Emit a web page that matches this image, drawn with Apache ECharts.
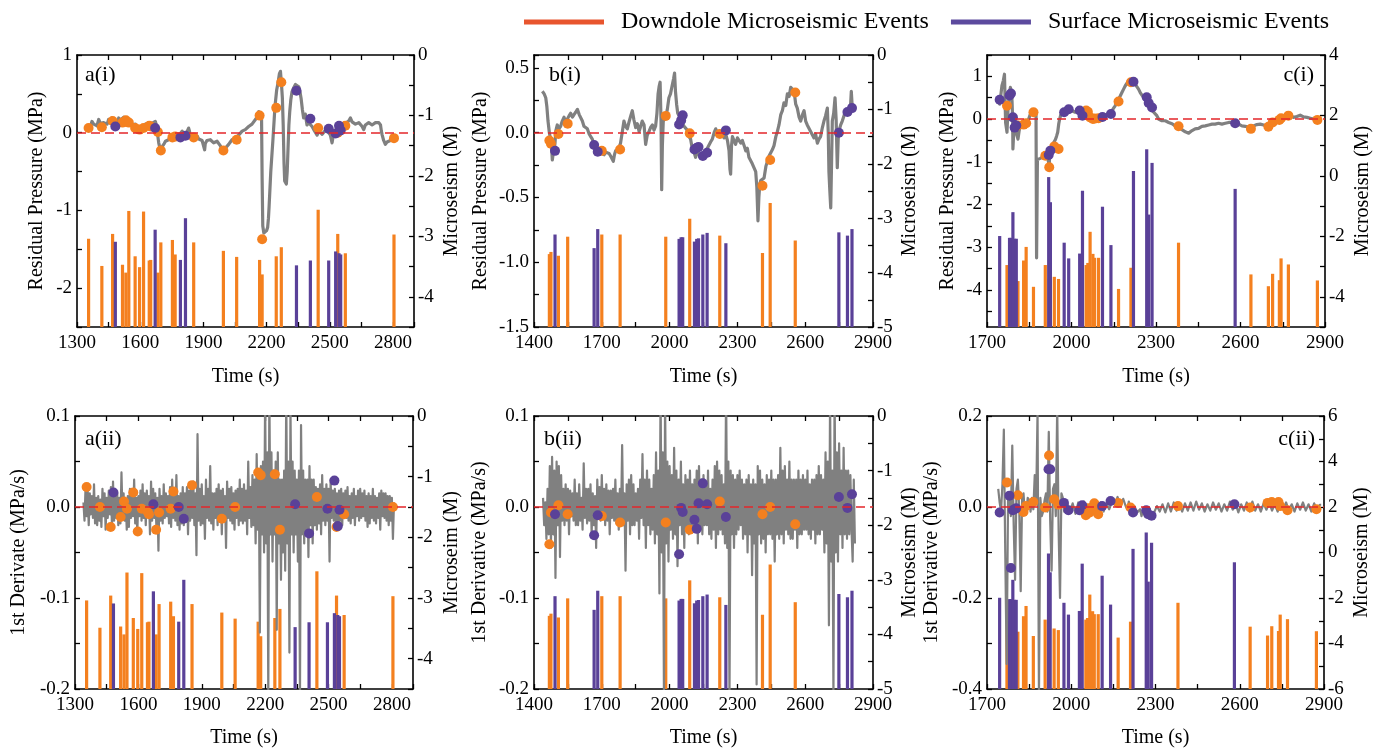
<!DOCTYPE html>
<html><head><meta charset="utf-8">
<script src="https://cdn.jsdelivr.net/npm/echarts@6/dist/echarts.min.js"></script>
<style>html,body{margin:0;padding:0;background:#fff}#c{width:1386px;height:753px}</style>
</head><body><div id="c"></div>
<script>
// ---------------- DATA ----------------
// Column a
const aDownT = [1355,1418,1469,1516,1532,1546,1576,1597,1616,1643,1650,1684,1698,1753,1766,1854,1995,2058,2167,2179,2246,2270,2445,2538,2574,2805];
const aDownM = [-3.04,-3.49,-2.96,-3.47,-3.60,-2.58,-3.33,-3.51,-2.59,-3.40,-3.39,-3.60,-3.10,-3.06,-3.30,-3.10,-3.24,-3.34,-3.39,-3.63,-3.33,-3.18,-2.56,-2.96,-3.28,-2.97];
const aDownP = [0.06,0.07,0.15,0.13,0.16,0.13,0.06,0.04,0.06,0.09,0.08,0.01,-0.23,-0.06,-0.05,-0.06,-0.23,-0.09,0.22,-1.37,0.32,0.65,0.06,0.00,0.09,-0.07];
const aDownD = [0.022,0.000,-0.022,-0.011,0.006,-0.002,0.016,-0.027,-0.002,-0.005,-0.008,-0.025,-0.006,-0.002,0.017,0.024,-0.013,0.000,0.038,0.035,0.036,-0.025,0.011,-0.022,-0.008,0.000];
const aSurfT = [1482,1671,1791,1815,2342,2408,2495,2528,2544,2552];
const aSurfM = [-3.09,-2.89,-3.39,-2.70,-3.48,-3.40,-3.40,-3.25,-3.28,-3.30];
const aSurfP = [0.08,0.06,-0.06,-0.04,0.54,0.18,0.05,-0.01,0.09,0.03];
const aSurfD = [0.016,0.003,0.000,-0.013,0.003,-0.029,-0.002,0.029,-0.021,-0.003];
const aPres = [[1340,0.04],[1348,0.09],[1355,0.10],[1363,0.07],[1371,0.145],[1379,0.11],[1387,0.12],[1395,0.09],[1403,0.17],[1411,0.12],[1419,0.10],[1427,0.13],[1435,0.145],[1443,0.11],[1450,0.17],[1458,0.14],[1466,0.19],[1474,0.15],[1482,0.145],[1490,0.12],[1498,0.19],[1506,0.16],[1514,0.17],[1522,0.20],[1530,0.15],[1537,0.145],[1545,0.12],[1553,0.13],[1561,0.10],[1569,0.08],[1577,0.11],[1585,0.06],[1593,0.04],[1601,0.08],[1609,0.10],[1617,0.07],[1625,0.11],[1632,0.10],[1640,0.12],[1648,0.09],[1656,0.12],[1664,0.10],[1672,0.145],[1676,0.10],[1680,0.06],[1684,-0.05],[1688,-0.13],[1692,-0.18],[1696,-0.20],[1702,-0.19],[1708,-0.17],[1714,-0.14],[1720,-0.11],[1728,-0.12],[1735,-0.09],[1743,-0.06],[1751,-0.03],[1759,-0.06],[1767,-0.05],[1775,-0.02],[1783,-0.03],[1791,-0.01],[1799,0.02],[1807,-0.01],[1814,-0.03],[1822,0.01],[1830,0.06],[1834,0.02],[1838,-0.05],[1846,-0.04],[1854,-0.07],[1862,-0.05],[1870,-0.04],[1878,-0.08],[1886,-0.09],[1894,-0.10],[1902,-0.12],[1906,-0.22],[1909,-0.14],[1917,-0.10],[1925,-0.12],[1933,-0.09],[1941,-0.10],[1949,-0.13],[1957,-0.13],[1965,-0.11],[1973,-0.13],[1981,-0.17],[1989,-0.22],[1997,-0.24],[2004,-0.20],[2012,-0.18],[2020,-0.15],[2028,-0.12],[2036,-0.09],[2044,-0.10],[2052,-0.07],[2060,-0.05],[2068,-0.03],[2076,-0.01],[2084,0.02],[2092,0.00],[2099,0.04],[2107,0.05],[2115,0.08],[2123,0.06],[2131,0.11],[2139,0.10],[2147,0.17],[2155,0.20],[2163,0.27],[2171,0.29],[2176,0.25],[2179,-0.6],[2182,-1.2],[2187,-1.29],[2195,-1.31],[2200,-1.26],[2205,-1.22],[2209,-1.1],[2212,-0.95],[2220,-0.5],[2230,-0.1],[2240,0.34],[2248,0.55],[2255,0.65],[2261,0.76],[2266,0.79],[2271,0.62],[2275,0.45],[2279,0.1],[2283,-0.4],[2286,-0.62],[2294,-0.66],[2298,-0.5],[2302,-0.2],[2306,0.1],[2310,0.27],[2315,0.42],[2321,0.53],[2329,0.58],[2337,0.62],[2345,0.60],[2353,0.59],[2359,0.52],[2364,0.44],[2370,0.30],[2376,0.19],[2384,0.24],[2392,0.10],[2400,0.13],[2408,0.12],[2416,0.08],[2424,0.04],[2432,0.06],[2440,-0.03],[2448,0.02],[2456,0.02],[2464,-0.02],[2471,-0.03],[2479,0.03],[2487,0.04],[2495,0.00],[2503,-0.03],[2511,-0.13],[2519,0.00],[2527,0.03],[2535,0.06],[2543,0.05],[2551,0.10],[2559,0.07],[2566,0.08],[2574,0.12],[2582,0.12],[2590,0.15],[2598,0.19],[2606,0.14],[2614,0.15],[2622,0.11],[2630,0.10],[2638,0.13],[2646,0.12],[2654,0.08],[2661,0.04],[2669,0.10],[2677,0.10],[2685,0.13],[2693,0.12],[2701,0.10],[2709,0.11],[2717,0.13],[2725,0.12],[2733,0.13],[2741,0.10],[2745,0.02],[2749,-0.03],[2756,-0.10],[2764,-0.15],[2772,-0.12],[2780,-0.12],[2788,-0.10],[2796,-0.09],[2804,-0.07],[2812,-0.06]];
const aDerivStart = 1340, aDerivStep = 5;
const aDeriv = [
0.005,-0.015,0.022,-0.010,0.018,-0.020,0.015,-0.008,0.012,-0.012,
0.025,-0.018,0.010,-0.020,0.012,-0.015,0.008,-0.022,0.020,-0.010,
0.015,-0.025,0.010,-0.012,0.018,-0.008,0.022,-0.022,0.028,-0.015,
0.012,-0.012,0.015,-0.020,0.010,-0.018,0.038,-0.010,0.015,-0.015,
0.008,-0.025,0.012,-0.022,0.020,-0.012,0.015,-0.010,0.030,-0.018,
0.010,-0.028,0.012,-0.010,0.018,-0.015,0.025,-0.012,0.015,-0.020,
0.018,-0.010,0.012,-0.030,0.028,-0.015,0.020,-0.012,0.015,-0.020,
0.010,-0.048,0.020,-0.015,0.012,-0.018,0.025,-0.012,0.015,-0.010,
0.012,-0.018,0.022,-0.022,0.030,-0.012,0.018,-0.015,0.035,-0.020,
0.012,-0.025,0.015,-0.018,0.022,-0.020,0.015,-0.012,0.022,-0.030,
0.018,-0.015,0.025,-0.012,0.028,-0.020,0.015,-0.053,0.080,-0.015,
0.020,-0.020,0.025,-0.018,0.012,-0.035,0.030,-0.012,0.020,-0.015,
0.045,-0.018,0.015,-0.025,0.015,-0.012,0.020,-0.020,0.025,-0.015,
0.018,-0.030,0.020,-0.015,0.012,-0.045,0.028,-0.012,0.020,-0.015,
0.022,-0.018,0.015,-0.025,0.018,-0.012,0.020,-0.020,0.030,-0.015,
0.020,-0.018,0.025,-0.015,0.018,-0.030,0.050,-0.012,0.022,-0.022,
0.035,-0.020,0.030,-0.040,0.058,-0.025,0.040,-0.138,0.045,-0.030,
0.050,-0.050,0.120,-0.040,0.060,-0.210,0.130,-0.030,0.060,-0.060,
0.040,-0.030,0.050,-0.135,0.060,-0.040,0.030,-0.080,0.030,-0.050,
0.040,-0.070,0.125,-0.040,0.050,-0.160,0.110,-0.030,0.050,-0.050,
0.040,-0.030,0.030,-0.060,0.040,-0.210,0.090,-0.030,0.040,-0.040,
0.030,-0.025,0.030,-0.055,0.045,-0.020,0.030,-0.040,0.030,-0.020,
0.022,-0.025,0.020,-0.018,0.025,-0.030,0.035,-0.015,0.020,-0.020,
0.025,-0.015,0.020,-0.060,0.030,-0.012,0.018,-0.015,0.020,-0.018,
0.015,-0.025,0.018,-0.015,0.020,-0.020,0.015,-0.010,0.018,-0.012,
0.022,-0.015,0.012,-0.018,0.015,-0.012,0.020,-0.020,0.012,-0.010,
0.018,-0.015,0.020,-0.012,0.015,-0.010,0.018,-0.015,0.012,-0.022,
0.015,-0.018,0.012,-0.012,0.020,-0.015,0.012,-0.018,0.010,-0.012,
0.015,-0.025,0.018,-0.010,0.015,-0.012,0.015,-0.015,0.012,-0.020,
0.012,-0.015,0.010,-0.035,0.005];

// Column b
const bDownT = [1468,1475,1508,1549,1700,1781,1983,2089,2222,2411,2445,2556];
const bDownM = [-3.66,-3.62,-3.69,-3.34,-3.30,-3.30,-3.34,-3.01,-3.32,-3.64,-2.72,-3.41];
const bDownP = [-0.06,-0.085,-0.01,0.07,-0.14,-0.13,0.13,-0.005,-0.01,-0.41,-0.21,0.31];
const bDownD = [-0.041,-0.006,0.002,-0.008,-0.010,-0.017,-0.017,-0.025,0.006,-0.008,0.000,-0.019];
const bSurfT = [1493,1666,1682,2042,2051,2058,2110,2120,2128,2147,2166,2249,2749,2787,2807];
const bSurfM = [-3.30,-3.55,-3.20,-3.38,-3.35,-3.35,-3.43,-3.38,-3.37,-3.30,-3.27,-3.46,-3.26,-3.32,-3.20];
const bSurfP = [-0.14,-0.095,-0.147,0.064,0.095,0.134,-0.13,-0.116,-0.11,-0.18,-0.155,0.018,0.0,0.16,0.19];
const bSurfD = [-0.008,-0.031,-0.009,-0.052,-0.001,-0.0055,-0.014,-0.024,0.004,0.026,0.003,-0.011,0.011,-0.001,0.014];
const bPres = [[1437,0.32],[1445,0.30],[1452,0.27],[1457,0.20],[1462,0.09],[1468,0.0],[1474,-0.06],[1478,-0.12],[1481,-0.21],[1485,-0.16],[1489,-0.14],[1493,-0.08],[1496,0.01],[1500,0.04],[1503,0.06],[1510,0.03],[1518,0.05],[1525,0.09],[1533,0.12],[1540,0.08],[1548,0.09],[1555,0.13],[1562,0.15],[1570,0.12],[1577,0.14],[1585,0.16],[1592,0.18],[1600,0.14],[1607,0.13],[1614,0.09],[1621,0.05],[1629,0.04],[1636,0.03],[1644,-0.01],[1651,-0.03],[1658,-0.05],[1666,-0.09],[1673,-0.11],[1680,-0.13],[1688,-0.12],[1695,-0.155],[1703,-0.14],[1710,-0.17],[1718,-0.15],[1725,-0.155],[1732,-0.16],[1739,-0.18],[1745,-0.17],[1751,-0.22],[1756,-0.17],[1761,-0.14],[1768,-0.13],[1776,-0.12],[1783,-0.08],[1791,0.01],[1798,0.09],[1805,0.05],[1813,0.03],[1820,0.08],[1828,0.13],[1835,0.17],[1842,0.10],[1850,0.04],[1857,0.07],[1865,0.01],[1872,0.05],[1879,0.09],[1887,0.06],[1894,-0.09],[1901,-0.02],[1909,0.01],[1916,0.04],[1924,0.06],[1931,0.02],[1938,0.05],[1944,0.15],[1949,0.30],[1954,0.36],[1958,0.39],[1962,0.1],[1965,-0.44],[1968,-0.1],[1972,0.09],[1978,0.10],[1983,0.12],[1990,0.18],[1997,0.27],[2004,0.30],[2012,0.37],[2018,0.42],[2022,0.46],[2026,0.32],[2031,0.22],[2036,0.15],[2042,0.13],[2049,0.09],[2056,0.09],[2064,0.05],[2071,0.05],[2078,0.02],[2086,-0.03],[2093,-0.05],[2101,-0.13],[2108,-0.15],[2115,-0.19],[2123,-0.14],[2130,-0.17],[2138,-0.16],[2145,-0.18],[2152,-0.15],[2160,-0.155],[2167,-0.12],[2174,-0.12],[2182,-0.07],[2189,-0.05],[2197,0.0],[2204,0.03],[2211,0.0],[2219,0.01],[2226,-0.03],[2233,0.0],[2241,-0.04],[2248,-0.01],[2256,-0.06],[2263,-0.14],[2267,-0.28],[2270,-0.32],[2274,-0.1],[2278,-0.03],[2285,-0.06],[2292,-0.09],[2300,-0.04],[2307,-0.05],[2315,-0.08],[2322,-0.06],[2330,-0.1],[2337,-0.14],[2344,-0.12],[2351,-0.19],[2359,-0.2],[2366,-0.24],[2374,-0.25],[2381,-0.30],[2386,-0.42],[2391,-0.68],[2395,-0.5],[2399,-0.40],[2403,-0.37],[2411,-0.38],[2418,-0.35],[2426,-0.26],[2433,-0.22],[2440,-0.18],[2447,-0.17],[2455,-0.13],[2462,-0.10],[2470,-0.03],[2477,0.01],[2484,0.06],[2492,0.14],[2499,0.17],[2506,0.23],[2514,0.21],[2521,0.30],[2529,0.28],[2536,0.35],[2544,0.34],[2551,0.32],[2558,0.22],[2565,0.19],[2573,0.12],[2580,0.09],[2588,0.14],[2595,0.17],[2602,0.09],[2609,0.06],[2617,0.05],[2624,0.01],[2632,0.02],[2639,-0.04],[2646,-0.01],[2654,-0.08],[2661,-0.05],[2668,-0.03],[2676,0.04],[2683,0.09],[2690,0.13],[2698,0.19],[2702,0.0],[2705,-0.30],[2709,-0.45],[2713,-0.58],[2717,-0.2],[2720,0.09],[2726,0.15],[2732,0.27],[2737,0.1],[2742,-0.27],[2746,-0.05],[2749,0.01],[2757,0.06],[2764,0.09],[2771,0.10],[2779,0.17],[2786,0.15],[2794,0.19],[2801,0.22],[2804,0.32],[2808,0.20],[2813,0.19]];
const bDerivStart = 1440, bDerivStep = 5;
const bDeriv = [
0.010,-0.020,0.005,-0.035,0.020,-0.030,0.045,-0.045,0.055,-0.030,
0.040,-0.078,0.050,-0.020,0.045,-0.055,0.035,-0.015,0.020,-0.020,
0.025,-0.015,0.020,-0.030,0.018,-0.010,0.015,-0.015,0.030,-0.020,
0.015,-0.020,0.025,-0.015,0.010,-0.025,0.048,-0.012,0.020,-0.018,
0.020,-0.015,0.025,-0.030,0.015,-0.020,0.012,-0.045,0.030,-0.010,
0.022,-0.015,0.035,-0.012,0.020,-0.020,0.025,-0.015,0.018,-0.030,
0.018,-0.012,0.020,-0.015,0.030,-0.018,0.015,-0.025,0.020,-0.015,
0.068,-0.020,0.015,-0.070,0.025,-0.015,0.030,-0.030,0.035,-0.020,
0.025,-0.020,0.015,-0.015,0.020,-0.035,0.030,-0.012,0.058,-0.020,
0.030,-0.045,0.040,-0.020,0.030,-0.030,0.020,-0.025,0.035,-0.040,
0.060,-0.030,0.040,-0.095,0.130,-0.050,0.060,-0.210,0.120,-0.040,
0.050,-0.060,0.045,-0.025,0.035,-0.035,0.065,-0.030,0.040,-0.065,
0.030,-0.020,0.050,-0.030,0.025,-0.045,0.035,-0.025,0.030,-0.030,
0.040,-0.020,0.025,-0.025,0.030,-0.020,0.040,-0.040,0.045,-0.025,
0.030,-0.030,0.035,-0.020,0.025,-0.020,0.040,-0.030,0.020,-0.035,
0.030,-0.025,0.045,-0.045,0.050,-0.030,0.040,-0.025,0.035,-0.030,
0.025,-0.040,0.130,-0.045,0.050,-0.210,0.040,-0.030,0.035,-0.045,
0.030,-0.030,0.035,-0.025,0.040,-0.020,0.030,-0.035,0.025,-0.030,
0.030,-0.050,0.035,-0.030,0.025,-0.075,0.030,-0.040,0.025,-0.195,
0.045,-0.030,0.040,-0.040,0.030,-0.035,0.025,-0.050,0.035,-0.030,
0.030,-0.030,0.040,-0.035,0.030,-0.060,0.030,-0.030,0.035,-0.035,
0.065,-0.030,0.040,-0.040,0.045,-0.025,0.030,-0.030,0.050,-0.035,
0.030,-0.035,0.030,-0.025,0.030,-0.045,0.040,-0.030,0.030,-0.030,
0.035,-0.025,0.030,-0.025,0.040,-0.030,0.025,-0.035,0.030,-0.025,
0.030,-0.040,0.035,-0.030,0.045,-0.030,0.035,-0.025,0.030,-0.050,
0.060,-0.040,0.050,-0.130,0.120,-0.060,0.040,-0.210,0.130,-0.050,
0.060,-0.060,0.070,-0.030,0.040,-0.045,0.065,-0.030,0.040,-0.035,
0.040,-0.030,0.035,-0.025,-0.060,0.030,-0.040];

// Column c
const cDownT = [1771,1810,1830,1839,1865,1907,1921,1939,1954,2052,2058,2066,2076,2082,2096,2167,2211,2380,2637,2699,2714,2738,2744,2770,2873];
const cDownM = [-2.95,-3.48,-2.80,-2.35,-3.67,-2.95,-3.40,-3.34,-3.41,-2.95,-2.88,-1.85,-2.58,-2.71,-2.71,-3.74,-3.04,-2.21,-3.26,-3.65,-3.24,-3.45,-2.73,-2.93,-3.46];
const cDownP = [0.31,-0.15,-0.13,-0.10,0.16,-0.86,-1.13,-0.64,-0.70,0.20,0.17,0.04,0.00,0.01,0.02,0.41,0.86,-0.17,-0.23,-0.18,-0.08,-0.02,0.02,0.08,-0.02];
const cDownD = [0.054,0.026,-0.011,0.002,0.011,-0.001,0.113,0.017,0.005,-0.018,-0.003,-0.012,-0.001,0.008,-0.016,0.009,-0.001,0.002,-0.001,0.009,0.011,0.011,0.002,-0.007,-0.005];
const cSurfT = [1745,1780,1785,1792,1798,1804,1919,1925,1974,1990,2029,2039,2110,2140,2220,2267,2274,2286,2581];
const cSurfM = [-1.99,-2.05,-2.05,-1.20,-2.08,-2.08,-0.04,-0.87,-2.21,-2.73,-2.57,-0.49,-1.02,-2.29,0.16,0.88,-1.28,0.43,-0.43];
const cSurfP = [0.45,0.55,0.60,0.04,-0.20,-0.15,-0.84,-0.74,0.16,0.23,0.20,0.08,0.05,0.12,0.875,0.51,0.375,0.27,-0.10];
const cSurfD = [-0.012,0.025,-0.134,-0.007,-0.005,-0.003,0.083,0.083,0.009,-0.007,-0.007,0.004,0.002,0.013,-0.012,-0.007,-0.016,-0.019,0.006];
const cPres = [[1735,0.47],[1740,0.40],[1745,0.35],[1749,0.55],[1753,0.78],[1758,0.90],[1762,1.05],[1764,0.5],[1766,-0.08],[1771,-0.31],[1773,0.0],[1775,0.27],[1779,0.55],[1783,0.74],[1787,0.62],[1789,0.40],[1791,0.0],[1792,-0.70],[1795,-0.3],[1797,-0.17],[1801,-0.25],[1804,-0.21],[1807,-0.40],[1810,-0.47],[1814,-0.28],[1818,-0.16],[1824,-0.15],[1830,-0.12],[1836,-0.10],[1842,-0.08],[1848,0.0],[1854,0.12],[1860,0.16],[1866,0.20],[1870,0.22],[1874,0.20],[1876,-3.25],[1879,-0.95],[1883,-0.94],[1889,-0.92],[1895,-0.90],[1901,-0.88],[1907,-0.86],[1913,-0.82],[1919,-0.80],[1921,-1.10],[1923,-0.74],[1925,-0.70],[1931,-0.62],[1937,-0.55],[1943,-0.48],[1947,-0.40],[1951,-0.31],[1955,-0.10],[1958,0.0],[1962,0.10],[1966,0.16],[1972,0.19],[1978,0.22],[1984,0.23],[1990,0.23],[1996,0.21],[2002,0.195],[2008,0.17],[2013,0.16],[2019,0.18],[2025,0.18],[2031,0.15],[2037,0.12],[2043,0.10],[2049,0.08],[2055,0.07],[2061,0.08],[2067,0.05],[2073,0.04],[2079,0.03],[2084,0.02],[2090,0.03],[2096,0.04],[2102,0.05],[2108,0.06],[2114,0.08],[2120,0.10],[2126,0.11],[2132,0.12],[2138,0.16],[2144,0.20],[2150,0.26],[2155,0.31],[2161,0.38],[2167,0.47],[2173,0.54],[2179,0.62],[2185,0.70],[2191,0.78],[2197,0.84],[2203,0.88],[2209,0.90],[2215,0.90],[2220,0.87],[2226,0.82],[2232,0.76],[2238,0.70],[2244,0.62],[2250,0.56],[2256,0.52],[2262,0.47],[2268,0.40],[2274,0.31],[2280,0.25],[2286,0.23],[2292,0.16],[2297,0.16],[2303,0.08],[2309,0.0],[2315,-0.02],[2321,-0.04],[2327,-0.03],[2333,-0.04],[2339,-0.05],[2345,-0.08],[2351,-0.09],[2357,-0.11],[2362,-0.13],[2368,-0.16],[2374,-0.17],[2380,-0.19],[2386,-0.22],[2392,-0.25],[2398,-0.27],[2404,-0.30],[2410,-0.32],[2416,-0.33],[2422,-0.30],[2428,-0.27],[2434,-0.26],[2439,-0.23],[2445,-0.22],[2451,-0.22],[2457,-0.19],[2463,-0.17],[2469,-0.16],[2475,-0.16],[2481,-0.14],[2487,-0.14],[2493,-0.12],[2499,-0.12],[2505,-0.11],[2510,-0.12],[2516,-0.10],[2522,-0.10],[2528,-0.08],[2534,-0.12],[2540,-0.10],[2546,-0.10],[2552,-0.08],[2558,-0.08],[2564,-0.07],[2570,-0.08],[2576,-0.08],[2581,-0.08],[2587,-0.10],[2593,-0.12],[2599,-0.14],[2605,-0.16],[2611,-0.16],[2617,-0.17],[2623,-0.18],[2629,-0.19],[2635,-0.21],[2640,-0.23],[2646,-0.16],[2652,-0.16],[2658,-0.13],[2664,-0.13],[2670,-0.12],[2676,-0.12],[2682,-0.14],[2688,-0.16],[2694,-0.17],[2700,-0.17],[2706,-0.14],[2711,-0.12],[2717,-0.08],[2723,-0.08],[2729,-0.06],[2735,-0.04],[2741,-0.02],[2747,0.0],[2753,0.01],[2759,0.04],[2765,0.06],[2771,0.08],[2777,0.07],[2782,0.06],[2788,0.04],[2794,0.04],[2800,0.06],[2806,0.08],[2812,0.09],[2818,0.07],[2824,0.05],[2830,0.06],[2836,0.04],[2842,0.04],[2848,0.02],[2854,0.01],[2860,0.0],[2865,-0.01],[2871,-0.02],[2877,-0.03]];
const cDerivStart = 1740, cDerivStep = 5;
const cDeriv = [
0.040,0.010,-0.010,0.050,0.170,-0.100,-0.345,0.020,0.030,-0.020,
0.135,-0.040,-0.160,0.040,0.060,-0.010,-0.185,0.020,0.030,-0.015,
-0.010,0.020,0.015,-0.010,0.020,-0.005,0.070,0.010,0.210,-0.420,
0.020,-0.020,-0.010,0.015,0.030,-0.010,0.165,-0.030,-0.140,0.040,
0.050,-0.020,0.220,-0.050,-0.200,0.030,0.020,-0.010,-0.005,0.010,
0.012,-0.012,-0.010,0.008,0.008,-0.015,-0.015,0.010,0.012,-0.012,
-0.012,0.012,0.010,-0.018,-0.018,0.006,0.008,-0.012,-0.010,0.012,
0.015,-0.006,-0.008,0.010,0.012,-0.010,-0.012,0.008,0.010,-0.005,
-0.005,0.012,0.018,0.005,0.008,0.022,0.022,0.002,0.005,0.018,
0.020,0.000,-0.005,0.012,0.012,-0.010,-0.015,0.002,0.005,-0.012,
-0.012,-0.005,-0.020,-0.010,-0.008,-0.022,-0.018,-0.008,-0.012,-0.022,
-0.025,-0.012,-0.015,0.002,0.005,-0.010,-0.010,0.006,0.008,-0.012,
-0.012,0.008,0.010,-0.010,-0.008,0.010,0.012,-0.008,-0.010,0.008,
0.008,-0.010,-0.012,0.008,0.010,-0.008,-0.008,0.010,0.012,-0.008,
-0.010,0.012,0.015,-0.006,-0.008,0.008,0.010,-0.010,-0.012,0.006,
0.008,-0.008,-0.010,0.010,0.012,-0.006,-0.008,0.008,0.010,-0.010,
-0.012,0.006,0.008,-0.008,-0.010,0.012,0.015,-0.006,-0.008,0.008,
0.010,-0.012,-0.015,0.006,0.008,-0.008,-0.010,0.010,0.012,-0.010,
-0.012,0.012,0.015,-0.008,-0.010,0.006,0.008,-0.010,-0.012,0.008,
0.010,-0.006,-0.008,0.010,0.012,-0.008,-0.010,0.006,0.008,-0.010,
-0.012,0.008,0.010,-0.006,-0.008,0.010,0.012,-0.008,-0.010,0.006,
0.008,-0.010,-0.012,0.008,0.010,-0.006,-0.008,0.010,0.012,-0.008,
-0.010,0.006,0.008,-0.010,-0.012,0.008,0.010,-0.006,-0.008,0.005,
0.005];

// Axis tick labels / ticks
const xRanges = [[1300,2900],[1400,2900],[1700,2900]];
const cLeftTicks = [-4.5,-4,-3.5,-3,-2.5,-2,-1.5,-1,-0.5,0,0.5,1,1.5];
const cLeftLabels = [-4,-3,-2,-1,0,1];
const legendNames = ['Downdole Microseismic Events','Surface Microseismic Events'];

// ---------------- CHART ----------------
const FONT = '"Liberation Serif", "Times New Roman", serif';
const ORANGE = '#F4801F', PURPLE = '#5A4198', GRAY = '#808080';
const LEG_ORANGE = '#E8552E', LEG_PURPLE = '#5C4A9E';

function mult(v, s){ return Math.abs(v/s - Math.round(v/s)) < 1e-6; }
function fmtInt(step){ return v => mult(v, step) ? String(Math.round(v) || 0) : ''; }
function fmtDec(step){ return v => mult(v, step) ? (Math.abs(v) < 1e-9 ? '0.0' : v.toFixed(1)) : ''; }

const layout = [
  {left:77, top:55, width:337, height:272, lg:30, rg:28, xg:40},
  {left:534, top:55, width:339, height:272, lg:43, rg:27, xg:40},
  {left:987, top:55, width:338, height:272, lg:29, rg:28, xg:40},
  {left:75, top:416, width:338, height:273, lg:46, rg:29, xg:39},
  {left:534, top:416, width:339, height:273, lg:44, rg:27, xg:39},
  {left:987, top:416, width:337, height:273, lg:45, rg:28, xg:39}
];
const leftSpecs = [
  {min:-2.5, max:1, interval:0.5, fmt:fmtInt(1), name:'Residual Pressure (MPa)'},
  {min:-1.5, max:0.6, interval:0.25, fmt:fmtDec(0.5), name:'Residual Pressure (MPa)'},
  {min:-4.87, max:1.5, ticks:cLeftTicks, labels:cLeftLabels, fmt:v=>String(v), name:'Residual Pressure (MPa)'},
  {min:-0.2, max:0.1, interval:0.05, fmt:fmtDec(0.1), name:'1st Derivate (MPa/s)'},
  {min:-0.2, max:0.1, interval:0.05, fmt:fmtDec(0.1), name:'1st Derivative (MPa/s)'},
  {min:-0.4, max:0.2, interval:0.1, fmt:fmtDec(0.2), name:'1st Derivative (MPa/s)'}
];
const rightSpecs = [
  {min:-4.5, max:0, interval:0.5, fmt:fmtInt(1), name:'Microseism (M)'},
  {min:-5, max:0, interval:0.5, fmt:fmtInt(1), name:'Microseism (M)'},
  {min:-5, max:4, interval:1, fmt:fmtInt(2), name:'Microseism (M)'},
  {min:-4.5, max:0, interval:0.5, fmt:fmtInt(1), name:'Microseim (M)'},
  {min:-5, max:0, interval:0.5, fmt:fmtInt(1), name:'Microseism (M)'},
  {min:-6, max:6, interval:1, fmt:fmtInt(2), name:'Microseism (M)'}
];
const colData = [
  {downT:aDownT, downM:aDownM, downP:aDownP, downD:aDownD, surfT:aSurfT, surfM:aSurfM, surfP:aSurfP, surfD:aSurfD, pres:aPres, deriv:aDeriv, ds:aDerivStart, dstep:aDerivStep},
  {downT:bDownT, downM:bDownM, downP:bDownP, downD:bDownD, surfT:bSurfT, surfM:bSurfM, surfP:bSurfP, surfD:bSurfD, pres:bPres, deriv:bDeriv, ds:bDerivStart, dstep:bDerivStep},
  {downT:cDownT, downM:cDownM, downP:cDownP, downD:cDownD, surfT:cSurfT, surfM:cSurfM, surfP:cSurfP, surfD:cSurfD, pres:cPres, deriv:cDeriv, ds:cDerivStart, dstep:cDerivStep}
];

const txt = {fontFamily:FONT, color:'#000'};
const axLine = {show:true, onZero:false, lineStyle:{color:'#000', width:1.6}};
const axTick = {show:true, inside:true, length:5, lineStyle:{color:'#000', width:1.3}};

const grids = [], xAxes = [], yAxes = [], series = [];
layout.forEach((L, gi) => {
  const col = gi % 3, row = Math.floor(gi / 3);
  const range = xRanges[col];
  grids.push({left:L.left, top:L.top, width:L.width, height:L.height, containLabel:false});
  const xc = {type:'value', gridIndex:gi, min:range[0], max:range[1], interval:150, splitLine:{show:false}, axisLine:axLine, axisTick:axTick};
  xAxes.push(Object.assign({}, xc, {position:'bottom',
    axisLabel:Object.assign({margin:7, fontSize:19, formatter: v => mult(v - range[0], 300) ? String(v) : ''}, txt),
    name:'Time (s)', nameLocation:'middle', nameGap:L.xg, nameTextStyle:Object.assign({fontSize:20}, txt)}));
  xAxes.push(Object.assign({}, xc, {position:'top', axisLabel:{show:false}}));
  [[leftSpecs[gi], 'left', L.lg, 5], [rightSpecs[gi], 'right', L.rg, 4]].forEach(([S, pos, gap, mg]) => {
    yAxes.push({type:'value', gridIndex:gi, position:pos, min:S.min, max:S.max, interval:S.interval,
      splitLine:{show:false}, axisLine:axLine,
      axisTick:Object.assign({}, axTick, S.ticks ? {customValues:S.ticks} : {}),
      axisLabel:Object.assign({fontSize:19, margin:mg, formatter:S.fmt}, txt, S.labels ? {customValues:S.labels} : {}),
      name:S.name, nameLocation:'middle', nameGap:gap, nameTextStyle:Object.assign({fontSize:20}, txt)});
  });
  const D = colData[col];
  const yMin = rightSpecs[gi].min;
  const barSeries = (T, M, color) => ({
    type:'custom', xAxisIndex:2*gi, yAxisIndex:2*gi+1, clip:true, z:2, silent:true,
    data:T.map((t, i) => [t, M[i]]),
    renderItem:(params, api) => {
      const top = api.coord([api.value(0), api.value(1)]);
      const bot = api.coord([api.value(0), yMin]);
      return {type:'rect', shape:{x:top[0]-1.6, y:top[1], width:3.2, height:bot[1]-top[1]}, style:{fill:color}};
    }
  });
  series.push(barSeries(D.downT, D.downM, ORANGE));
  series.push(barSeries(D.surfT, D.surfM, PURPLE));
  const lineData = row === 0 ? D.pres : D.deriv.map((v, i) => [D.ds + i*D.dstep, v]);
  series.push({type:'line', xAxisIndex:2*gi, yAxisIndex:2*gi, data:lineData, showSymbol:false, symbol:'none',
    lineStyle:{color:GRAY, width: row === 0 ? 3.2 : 2.2, join:'round'}, z:3, clip:true, silent:true,
    markLine:{silent:true, symbol:['none','none'], label:{show:false}, animation:false,
      lineStyle:{color:'#E3262A', type:[9,5], width:1.7}, data:[{yAxis:0}]}});
  const dotY = row === 0 ? [D.downP, D.surfP] : [D.downD, D.surfD];
  series.push({type:'scatter', xAxisIndex:2*gi, yAxisIndex:2*gi, symbolSize:10, z:4, silent:true,
    itemStyle:{color:ORANGE, opacity:1}, data:D.downT.map((t, i) => [t, dotY[0][i]])});
  series.push({type:'scatter', xAxisIndex:2*gi, yAxisIndex:2*gi, symbolSize:10, z:4, silent:true,
    itemStyle:{color:PURPLE, opacity:1}, data:D.surfT.map((t, i) => [t, dotY[1][i]])});
});
// legend-only series
series.push({type:'line', name:legendNames[0], xAxisIndex:0, yAxisIndex:0, data:[], color:LEG_ORANGE, itemStyle:{color:LEG_ORANGE}, lineStyle:{color:LEG_ORANGE}});
series.push({type:'line', name:legendNames[1], xAxisIndex:0, yAxisIndex:0, data:[], color:LEG_PURPLE, itemStyle:{color:LEG_PURPLE}, lineStyle:{color:LEG_PURPLE}});

const panelLabel = (text, pos, y) => Object.assign({type:'text', top:y, z:10,
  style:{text:text, fontSize:22, fontFamily:FONT, fill:'#000'}}, pos);

const option = {
  animation:false,
  backgroundColor:'#fff',
  textStyle:{fontFamily:FONT},
  grid:grids, xAxis:xAxes, yAxis:yAxes, series:series,
  legend:{left:519, top:5, itemWidth:80, itemHeight:5, itemGap:22, icon:'rect', selectedMode:false,
    textStyle:{fontSize:24, fontFamily:FONT, color:'#000', padding:[0,0,0,12]}, data:legendNames},
  graphic:[
    panelLabel('a(i)', {left:85}, 64),
    panelLabel('b(i)', {left:549}, 64),
    panelLabel('c(i)', {right:72}, 64),
    panelLabel('a(ii)', {left:85}, 428),
    panelLabel('b(ii)', {left:544}, 428),
    panelLabel('c(ii)', {right:71}, 428)
  ]
};
const chart = echarts.init(document.getElementById('c'));
chart.setOption(option);
</script></body></html>
